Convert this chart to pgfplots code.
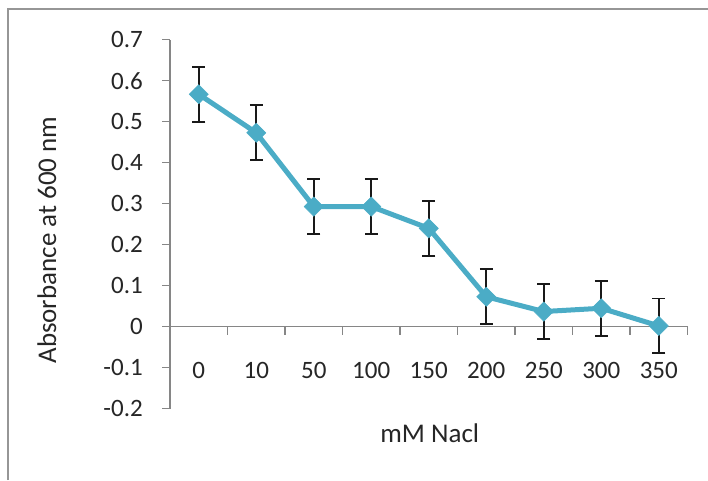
\documentclass[border=0pt]{standalone}
\usepackage{fontspec}
\setmainfont{Carlito}
\usepackage{pgfplots}
\pgfplotsset{compat=1.18}
\definecolor{linec}{RGB}{75,172,198}
\definecolor{axgray}{RGB}{134,134,134}
\definecolor{framegray}{RGB}{150,150,150}

% absorbance vs NaCl, categories plotted at 0..8
\pgfplotstableread{
x y e
0 0.567 0.067
1 0.473 0.067
2 0.293 0.067
3 0.293 0.067
4 0.240 0.067
5 0.073 0.067
6 0.037 0.067
7 0.045 0.067
8 0.002 0.067
}\nacl

\begin{document}
\begin{tikzpicture}[x=1pt,y=1pt]
\useasboundingbox (0,0) rectangle (708,480);
\draw[framegray, line width=1.8pt] (8,0) -- (8,471) -- (708,471);
\begin{axis}[
  at={(170pt,71.3pt)}, anchor=south west,
  scale only axis, width=517.5pt, height=369pt,
  xmin=-0.5, xmax=8.5, ymin=-0.2, ymax=0.7,
  axis x line=middle, axis y line=left,
  axis line style={-, axgray, line width=1.2pt},
  tick align=outside,
  major tick length=8pt,
  tick style={axgray, line width=1.2pt},
  xtick={-0.5,0.5,...,8.5}, xticklabels={},
  extra x ticks={0,1,...,8},
  extra x tick labels={0,10,50,100,150,200,250,300,350},
  extra x tick style={major tick length=0pt, tick style={draw=none},
    xticklabel style={anchor=center, inner sep=0pt, yshift=-44pt}},
  ytick={-0.2,-0.1,0,0.1,0.2,0.3,0.4,0.5,0.6,0.7},
  yticklabels={-0.2,-0.1,0,0.1,0.2,0.3,0.4,0.5,0.6,0.7},
  hide obscured x ticks=false, hide obscured y ticks=false,
  tick label style={font=\fontsize{25}{30}\selectfont, text=black!85},
  yticklabel style={anchor=east, inner sep=0pt, xshift=-19pt},
  xlabel={mM Nacl}, ylabel={Absorbance at 600 nm},
  label style={font=\fontsize{27}{32}\selectfont, text=black!85},
  xlabel style={at={(axis description cs:0.502,-0.066)}, anchor=center},
  ylabel style={at={(axis description cs:-0.238,0.457)}, anchor=center},
  clip=false,
]
\addplot[linec, line width=5pt, mark=square*, mark size=6.8pt,
  mark options={rotate=45, fill=linec, draw=linec, line width=0.5pt},
  error bars/.cd, y dir=both, y explicit,
  error bar style={black!90, line width=1.8pt},
  error mark options={rotate=90, black!90, mark size=6.5pt, line width=1.8pt}]
  table[x=x, y=y, y error=e] {\nacl};
\end{axis}
\end{tikzpicture}
\end{document}
